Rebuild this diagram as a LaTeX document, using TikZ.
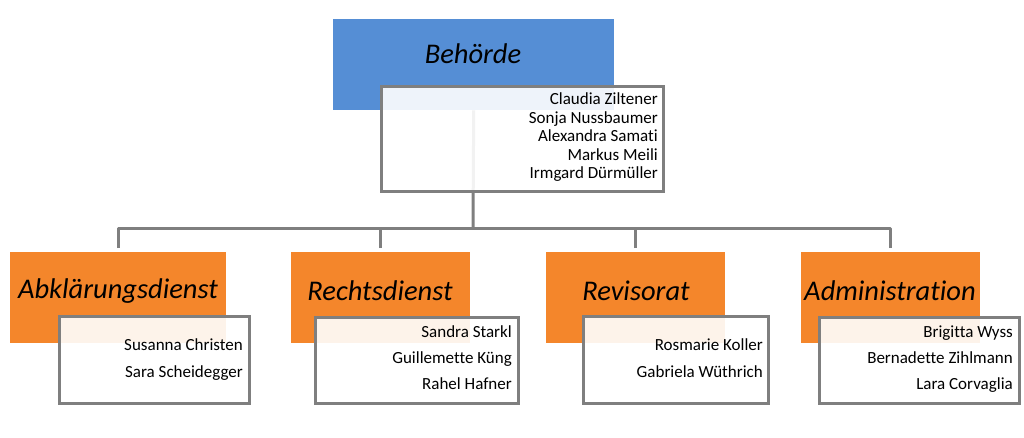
\documentclass[tikz,border=0pt]{standalone}
\usepackage{fontspec}
\setmainfont{Carlito}[Ligatures={NoCommon}]
\definecolor{topblue}{HTML}{558ED5}
\definecolor{deptorange}{HTML}{F4862B}
\definecolor{linegray}{HTML}{7F7F7F}
\tikzset{
  headbox/.style={draw=none, inner sep=0pt, anchor=north west},
  namebox/.style={draw=linegray, line width=3pt, fill=white, fill opacity=0.9, inner sep=0pt, anchor=north west},
  title/.style={font=\fontsize{28.5}{32}\selectfont\itshape, text=black, anchor=base, inner sep=0pt},
  person/.style={font=\fontsize{17}{20}\selectfont, text=black, anchor=base east, inner sep=0pt},
  conn/.style={draw=linegray, line width=3pt, line join=round}
}
\begin{document}
\begin{tikzpicture}[x=1pt,y=-1pt]
\useasboundingbox (0,0) rectangle (1024,438);
% head boxes
\node[headbox, fill=topblue, minimum width=281pt, minimum height=91pt] (top) at (333,19) {};
\node[headbox, fill=deptorange, minimum width=216pt, minimum height=91pt] (ab) at (10,252) {};
\node[headbox, fill=deptorange, minimum width=179pt, minimum height=91pt] (re) at (291,252) {};
\node[headbox, fill=deptorange, minimum width=179pt, minimum height=91pt] (rv) at (546,252) {};
\node[headbox, fill=deptorange, minimum width=179pt, minimum height=91pt] (ad) at (801,252) {};
% connectors
\coordinate (hub) at (473,229);
\draw[conn] (top.south) -- (hub);
\draw[conn, shorten <=4pt] (ab.north) |- (hub);
\draw[conn, shorten <=4pt] (re.north) |- (hub);
\draw[conn, shorten <=4pt] (rv.north) |- (hub);
\draw[conn, shorten <=4pt] (ad.north) |- (hub);
% titles
\node[title] (topt) at (473,64) {Behörde};
\node[title] (abt) at (118,298) {Abklärungsdienst};
\node[title] (ret) at (380,300) {Rechtsdienst};
\node[title] (rvt) at (636,300) {Revisorat};
\node[title] (adt) at (890,300) {Administration};
% name boxes
\node[namebox, minimum width=282pt, minimum height=105pt] (topn) at (380,85) {};
\node[namebox, minimum width=190pt, minimum height=87pt] (abn) at (58,315) {};
\node[namebox, minimum width=203pt, minimum height=86pt] (ren) at (314,316) {};
\node[namebox, minimum width=185pt, minimum height=87pt] (rvn) at (582,315) {};
\node[namebox, minimum width=200pt, minimum height=86pt] (adn) at (818,316) {};
% names
\node[person] (p1) at (658,105) {Claudia Ziltener};
\node[person] (p2) at (658,123.5) {Sonja Nussbaumer};
\node[person] (p3) at (658,142) {Alexandra Samati};
\node[person] (p4) at (658,160.5) {Markus Meili};
\node[person] (p5) at (658,179) {Irmgard Dürmüller};
\node[person] (a1) at (243,350) {Susanna Christen};
\node[person] (a2) at (243,377) {Sara Scheidegger};
\node[person] (r1) at (512,337) {Sandra Starkl};
\node[person] (r2) at (512,363) {Guillemette Küng};
\node[person] (r3) at (512,389) {Rahel Hafner};
\node[person] (v1) at (763,350) {Rosmarie Koller};
\node[person] (v2) at (763,377) {Gabriela Wüthrich};
\node[person] (d1) at (1013,337) {Brigitta Wyss};
\node[person] (d2) at (1013,363) {Bernadette Zihlmann};
\node[person] (d3) at (1013,389) {Lara Corvaglia};
\end{tikzpicture}
\end{document}
